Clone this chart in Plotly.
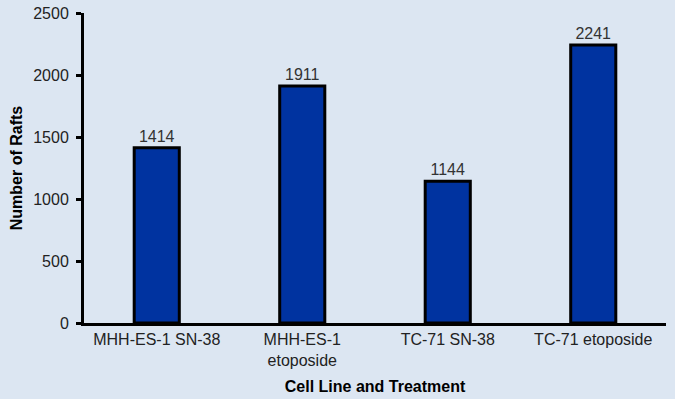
import plotly.graph_objects as go

categories = ["MHH-ES-1 SN-38", "MHH-ES-1<br>etoposide", "TC-71 SN-38", "TC-71 etoposide"]
rafts = [1414, 1911, 1144, 2241]
y_ticks = [0, 500, 1000, 1500, 2000, 2500]

font_family = "Liberation Sans, Arial, sans-serif"

fig = go.Figure(go.Bar(
    x=categories,
    y=rafts,
    width=0.31,
    marker=dict(color="#0033a0", line=dict(color="#000000", width=3)),
    text=[str(v) for v in rafts],
    textposition="outside",
    constraintext="none",
    textfont=dict(family=font_family, size=16, color="#333333"),
    cliponaxis=False,
))

fig.update_layout(
    width=675, height=399,
    margin=dict(l=84, r=9, t=13, b=76),
    paper_bgcolor="#dce6f2",
    plot_bgcolor="#dce6f2",
    font=dict(family=font_family, size=16, color="#222222"),
    showlegend=False,
)

fig.update_xaxes(
    automargin=False,
    showline=True, linecolor="#000000", linewidth=3,
    showgrid=False, ticks="", zeroline=False,
    tickfont=dict(size=16, color="#222222"),
    title=dict(text="<b>Cell Line and Treatment</b>", font=dict(size=16, color="#000000"), standoff=13),
)
fig.update_yaxes(
    automargin=False,
    range=[0, 2500], tickvals=y_ticks,
    showline=True, linecolor="#000000", linewidth=3,
    ticks="outside", ticklen=5, tickwidth=3, tickcolor="#000000",
    ticklabelstandoff=4,
    showgrid=False, zeroline=False,
    tickfont=dict(size=16, color="#222222"),
    title=dict(text="<b>Number of Rafts</b>", font=dict(size=16, color="#000000"), standoff=7),
)

fig.write_html(
    "out.html",
    config={"displayModeBar": False},
    post_script="document.body.style.margin='0';document.body.style.overflow='hidden';document.body.style.background='#dce6f2';",
)
